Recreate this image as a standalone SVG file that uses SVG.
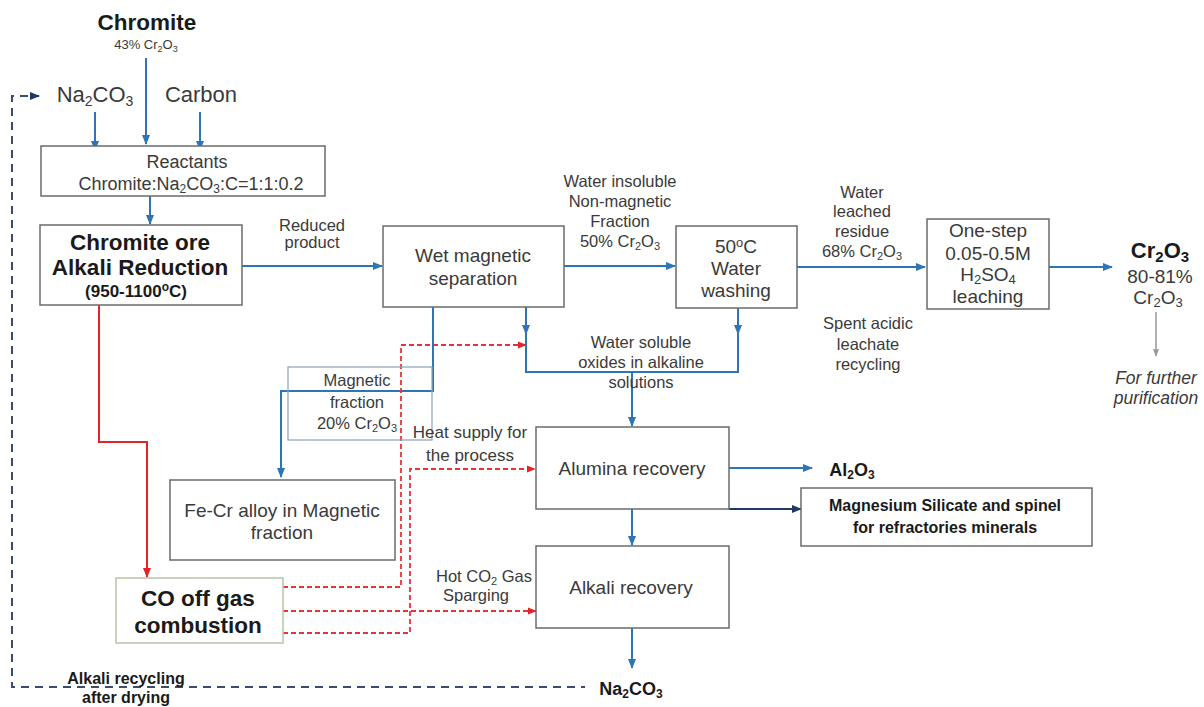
<svg xmlns="http://www.w3.org/2000/svg" width="1204" height="707" viewBox="0 0 1204 707">
<style>
text{font-family:"Liberation Sans",Arial,sans-serif;fill:#3a3a3a;text-anchor:middle}
.b{font-weight:bold;fill:#1a1a1a}
.box{fill:#fff;stroke:#6b6b6b;stroke-width:1.5}
.blue{fill:none;stroke:#2e75b6;stroke-width:2}
.red{fill:none;stroke:#e2242c;stroke-width:2}
.redd{fill:none;stroke:#e8323a;stroke-width:1.8;stroke-dasharray:5,3}
.nav{fill:none;stroke:#3a4d70;stroke-width:2;stroke-dasharray:8,6}
.l{font-size:16.5px}.m{font-size:19px}
</style>
<defs>
<marker id="ab" viewBox="0 0 10 10" refX="9" refY="5" markerWidth="5" markerHeight="5" orient="auto"><path d="M0,1L10,5L0,9z" fill="#2e75b6"/></marker>
<marker id="ar" viewBox="0 0 10 10" refX="9" refY="5" markerWidth="5" markerHeight="5" orient="auto"><path d="M0,1L10,5L0,9z" fill="#e2242c"/></marker>
<marker id="an" viewBox="0 0 10 10" refX="9" refY="5" markerWidth="5" markerHeight="5" orient="auto"><path d="M0,1L10,5L0,9z" fill="#1f3864"/></marker>
<marker id="ag" viewBox="0 0 10 10" refX="9" refY="5" markerWidth="5" markerHeight="5" orient="auto"><path d="M0,1L10,5L0,9z" fill="#999"/></marker>
</defs>

<g id="connectors">
<line class="blue" x1="95" y1="112" x2="95" y2="150" marker-end="url(#ab)"/>
<line class="blue" x1="146" y1="58" x2="146" y2="144" marker-end="url(#ab)"/>
<line class="blue" x1="200" y1="112" x2="200" y2="150" marker-end="url(#ab)"/>
<line class="blue" x1="150" y1="196" x2="150" y2="224" marker-end="url(#ab)"/>
<line class="blue" x1="242" y1="266" x2="382" y2="266" marker-end="url(#ab)"/>
<line class="blue" x1="564" y1="266" x2="675" y2="266" marker-end="url(#ab)"/>
<line class="blue" x1="797" y1="267" x2="925" y2="267" marker-end="url(#ab)"/>
<line class="blue" x1="1049" y1="267" x2="1112" y2="267" marker-end="url(#ab)"/>
<line x1="1156" y1="312" x2="1156" y2="356" stroke="#999" stroke-width="1.5" marker-end="url(#ag)"/>
<polyline class="blue" points="433,307 433,391 281,391 281,477" marker-end="url(#ab)"/>
<polyline class="blue" points="526,307 526,372 738,372 738,308"/>
<line class="blue" x1="526" y1="320" x2="526" y2="334" marker-end="url(#ab)"/>
<line class="blue" x1="738" y1="320" x2="738" y2="334" marker-end="url(#ab)"/>
<line class="blue" x1="632" y1="372" x2="632" y2="426" marker-end="url(#ab)"/>
<line class="blue" x1="632" y1="509" x2="632" y2="545" marker-end="url(#ab)"/>
<line class="blue" x1="632" y1="628" x2="632" y2="668" marker-end="url(#ab)"/>
<line class="blue" x1="729" y1="468" x2="812" y2="468" marker-end="url(#ab)"/>
<line x1="729" y1="509" x2="801" y2="509" stroke="#1f3864" stroke-width="2" marker-end="url(#an)"/>
<polyline class="red" points="99,305 99,442 147,442 147,577" marker-end="url(#ar)"/>
<polyline class="redd" points="283,587 401,587 401,345 526,345" marker-end="url(#ar)"/>
<line class="redd" x1="283" y1="611" x2="536" y2="611" marker-end="url(#ar)"/>
<polyline class="redd" points="283,633 410,633 410,469 535,469" marker-end="url(#ar)"/>
<polyline class="nav" points="28,96 12,96 12,687 585,687"/>
<line x1="30" y1="96" x2="39" y2="96" stroke="#1f3864" stroke-width="2" marker-end="url(#an)"/>
</g>

<g id="chromite"><text class="b" x="147" y="30" font-size="22.5">Chromite</text>
<text x="146" y="49" font-size="13">43% Cr<tspan font-size="9" dy="3">2</tspan><tspan dy="-3">O</tspan><tspan font-size="9" dy="3">3</tspan></text></g>
<g id="na2co3-in"><text x="95" y="102" font-size="22">Na<tspan font-size="14" dy="4">2</tspan><tspan dy="-4">CO</tspan><tspan font-size="14" dy="4">3</tspan></text></g>
<g id="carbon"><text x="201" y="102" font-size="22">Carbon</text></g>

<g id="reactants"><rect class="box" x="41" y="146" width="284" height="50"/>
<text x="187" y="168" font-size="18">Reactants</text>
<text x="191" y="190" font-size="18">Chromite:Na<tspan font-size="12" dy="3">2</tspan><tspan dy="-3">CO</tspan><tspan font-size="12" dy="3">3</tspan><tspan dy="-3">:C=1:1:0.2</tspan></text></g>

<g id="reduction"><rect class="box" x="40" y="225" width="202" height="80"/>
<text class="b" x="140" y="250" font-size="22.5">Chromite ore</text>
<text class="b" x="140" y="275" font-size="22.5">Alkali Reduction</text>
<text class="b" x="136" y="297" font-size="17">(950-1100<tspan font-size="12" dy="-6">o</tspan><tspan dy="6">C)</tspan></text></g>

<g id="reduced-label"><text class="l" x="312" y="231">Reduced</text><text class="l" x="312" y="248">product</text></g>

<g id="wetmag"><rect class="box" x="383" y="226" width="181" height="81"/>
<text class="m" x="473" y="262">Wet magnetic</text><text class="m" x="473" y="285">separation</text></g>

<g id="nonmag-label"><text class="l" x="620" y="187">Water insoluble</text><text class="l" x="620" y="207">Non-magnetic</text><text class="l" x="620" y="227">Fraction</text>
<text class="l" x="620" y="247">50% Cr<tspan font-size="11" dy="3">2</tspan><tspan dy="-3">O</tspan><tspan font-size="11" dy="3">3</tspan></text></g>

<g id="washing"><rect class="box" x="676" y="226" width="121" height="82"/>
<text class="m" x="736" y="253">50<tspan font-size="13" dy="-6">o</tspan><tspan dy="6">C</tspan></text>
<text class="m" x="736" y="275">Water</text><text class="m" x="736" y="297">washing</text></g>

<g id="leached-label"><text class="l" x="862" y="198">Water</text><text class="l" x="862" y="217">leached</text><text class="l" x="862" y="237">residue</text>
<text class="l" x="862" y="257">68% Cr<tspan font-size="11" dy="3">2</tspan><tspan dy="-3">O</tspan><tspan font-size="11" dy="3">3</tspan></text></g>

<g id="acid"><rect class="box" x="927" y="219" width="122" height="90"/>
<text class="m" x="988" y="237">One-step</text><text class="m" x="988" y="260">0.05-0.5M</text>
<text class="m" x="988" y="281">H<tspan font-size="13" dy="3">2</tspan><tspan dy="-3">SO</tspan><tspan font-size="13" dy="3">4</tspan></text>
<text class="m" x="988" y="303">leaching</text></g>

<g id="spent-label"><text class="l" x="868" y="329">Spent acidic</text><text class="l" x="868" y="350">leachate</text><text class="l" x="868" y="370">recycling</text></g>

<g id="cr2o3"><text class="b" x="1160" y="258" font-size="22">Cr<tspan font-size="15" dy="4">2</tspan><tspan dy="-4">O</tspan><tspan font-size="15" dy="4">3</tspan></text>
<text class="m" x="1160" y="283">80-81%</text>
<text class="m" x="1158" y="304">Cr<tspan font-size="13" dy="3">2</tspan><tspan dy="-3">O</tspan><tspan font-size="13" dy="3">3</tspan></text>
<text x="1156" y="384" font-size="17.5" font-style="italic">For further</text><text x="1156" y="404" font-size="17.5" font-style="italic">purification</text></g>

<g id="soluble-label"><text class="l" x="641" y="348">Water soluble</text><text class="l" x="641" y="368">oxides in alkaline</text><text class="l" x="641" y="388">solutions</text></g>

<g id="magfrac"><rect x="288" y="367" width="144" height="73" fill="none" stroke="#8aa2b8" stroke-width="1.2"/>
<text class="l" x="357" y="386">Magnetic</text><text class="l" x="357" y="408">fraction</text>
<text class="l" x="357" y="429">20% Cr<tspan font-size="11" dy="3">2</tspan><tspan dy="-3">O</tspan><tspan font-size="11" dy="3">3</tspan></text></g>

<g id="fecr"><rect class="box" x="170" y="480" width="225" height="80"/>
<text class="m" x="282" y="517">Fe-Cr alloy in Magnetic</text><text class="m" x="282" y="539">fraction</text></g>

<g id="heat-label"><text x="470" y="438" font-size="17">Heat supply for</text><text x="470" y="461" font-size="17">the process</text></g>

<g id="alumina"><rect class="box" x="536" y="427" width="193" height="82"/>
<text class="m" x="632" y="475">Alumina  recovery</text></g>

<g id="al2o3"><text class="b" x="852" y="476" font-size="18">Al<tspan font-size="12" dy="3">2</tspan><tspan dy="-3">O</tspan><tspan font-size="12" dy="3">3</tspan></text></g>

<g id="magnesium"><rect class="box" x="801" y="488" width="291" height="58"/>
<text class="b" x="945" y="511" font-size="16">Magnesium Silicate and spinel</text>
<text class="b" x="945" y="533" font-size="16">for refractories  minerals</text></g>

<g id="hotco2-label"><text class="l" x="484" y="582">Hot CO<tspan font-size="11" dy="3">2</tspan><tspan dy="-3"> Gas</tspan></text><text class="l" x="476" y="601">Sparging</text></g>

<g id="alkali"><rect class="box" x="536" y="546" width="193" height="82"/>
<text class="m" x="631" y="594">Alkali recovery</text></g>

<g id="combustion"><rect x="116" y="578" width="167" height="65" fill="#fff" stroke="#b9c3a9" stroke-width="1.5"/>
<text class="b" x="198" y="606" font-size="22.5">CO off gas</text><text class="b" x="198" y="633" font-size="22.5">combustion</text></g>

<g id="na2co3-out"><text class="b" x="631" y="695" font-size="18">Na<tspan font-size="12" dy="3">2</tspan><tspan dy="-3">CO</tspan><tspan font-size="12" dy="3">3</tspan></text></g>

<g id="recycle-label"><text class="b" x="126" y="684" font-size="16">Alkali recycling</text><text class="b" x="126" y="703" font-size="16">after drying</text></g>
</svg>
